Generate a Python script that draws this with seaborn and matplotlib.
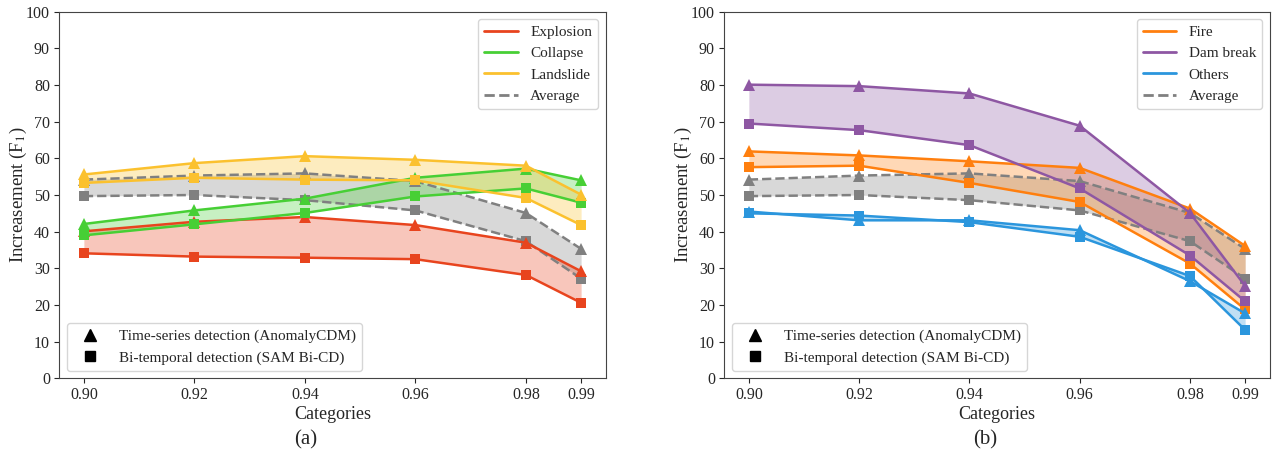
import matplotlib
matplotlib.use("Agg")
import matplotlib.pyplot as plt
import seaborn as sns
import pandas as pd
from matplotlib.lines import Line2D

# ---------------- data ----------------
thresholds = [0.90, 0.92, 0.94, 0.96, 0.98, 0.99]
tick_labels = ["0.90", "0.92", "0.94", "0.96", "0.98", "0.99"]

explosion_ts = [40.1, 42.7, 44.0, 41.8, 37.0, 29.2]
explosion_bi = [34.1, 33.2, 32.9, 32.5, 28.2, 20.6]
collapse_ts = [42.1, 45.8, 49.0, 54.7, 57.2, 54.0]
collapse_bi = [39.0, 42.0, 45.1, 49.6, 51.8, 47.9]
landslide_ts = [55.6, 58.7, 60.6, 59.6, 58.0, 50.1]
landslide_bi = [53.3, 54.7, 54.2, 54.0, 49.2, 41.8]
fire_ts = [61.9, 60.8, 59.2, 57.4, 46.3, 36.1]
fire_bi = [57.6, 58.0, 53.3, 48.1, 31.3, 18.8]
dam_ts = [80.1, 79.7, 77.7, 68.9, 45.1, 25.2]
dam_bi = [69.5, 67.7, 63.6, 51.8, 33.5, 21.0]
others_ts = [45.5, 43.1, 43.1, 40.4, 26.5, 17.7]
others_bi = [45.0, 44.4, 42.6, 38.6, 27.9, 13.2]
average_ts = [54.2, 55.3, 55.9, 53.8, 45.1, 35.3]
average_bi = [49.7, 50.0, 48.6, 45.8, 37.4, 27.2]

left_names = ["Explosion", "Collapse", "Landslide"]
right_names = ["Fire", "Dam break", "Others"]
colors = {
    "Explosion": "#E8441E",
    "Collapse": "#47CF35",
    "Landslide": "#FBC12E",
    "Fire": "#FF7F0E",
    "Dam break": "#8E57A3",
    "Others": "#2B96DD",
    "Average": "#808080",
}
series = {
    "Explosion": (explosion_ts, explosion_bi),
    "Collapse": (collapse_ts, collapse_bi),
    "Landslide": (landslide_ts, landslide_bi),
    "Fire": (fire_ts, fire_bi),
    "Dam break": (dam_ts, dam_bi),
    "Others": (others_ts, others_bi),
    "Average": (average_ts, average_bi),
}

# ---------------- style ----------------
sns.set_style("ticks")
plt.rcParams["font.family"] = ["Liberation Serif", "DejaVu Serif"]
plt.rcParams["mathtext.fontset"] = "stix"
plt.rcParams["axes.edgecolor"] = "#444444"

fig = plt.figure(figsize=(12.72, 4.63), dpi=100)
ax_l = fig.add_axes([0.0464, 0.1829, 0.4300, 0.7918])
ax_r = fig.add_axes([0.5692, 0.1829, 0.4292, 0.7918])


def draw_series(ax, name, dashed=False):
    ts, bi = series[name]
    c = colors[name]
    ls = "--" if dashed else "-"
    df_ts = pd.DataFrame({"x": thresholds, "y": ts})
    df_bi = pd.DataFrame({"x": thresholds, "y": bi})
    ax.fill_between(thresholds, ts, bi, color=c, alpha=0.3, linewidth=0)
    sns.lineplot(data=df_ts, x="x", y="y", ax=ax, color=c, linestyle=ls,
                 linewidth=1.8, marker="^", markersize=8,
                 markeredgewidth=0, label=None)
    sns.lineplot(data=df_bi, x="x", y="y", ax=ax, color=c, linestyle=ls,
                 linewidth=1.8, marker="s", markersize=7.5,
                 markeredgewidth=0, label=None)


for ax, names, panel, px in [(ax_l, left_names, "(a)", 306 / 1272),
                             (ax_r, right_names, "(b)", 985 / 1272)]:
    draw_series(ax, "Average", dashed=True)
    for n in names:
        draw_series(ax, n)
    ax.set_ylim(0, 100)
    ax.set_yticks(range(0, 101, 10))
    ax.set_xticks(thresholds)
    ax.set_xticklabels(tick_labels)
    ax.tick_params(labelsize=11.5, length=3.5, pad=3)
    ax.set_xlabel("Categories", fontsize=13, labelpad=2)
    ax.set_ylabel("Increasement (F$_1$)", fontsize=13.5, labelpad=-2)
    for s in ax.spines.values():
        s.set_visible(True)

    handles = [Line2D([0], [0], color=colors[n], lw=2) for n in names]
    handles.append(Line2D([0], [0], color=colors["Average"], lw=2, ls="--"))
    leg1 = ax.legend(handles, names + ["Average"], loc="upper right",
                     fontsize=11, frameon=True, handlelength=2.2,
                     borderaxespad=0.5, labelspacing=0.5)
    ax.add_artist(leg1)
    mh = [Line2D([0], [0], color="black", marker="^", ls="none", markersize=8),
          Line2D([0], [0], color="black", marker="s", ls="none", markersize=7)]
    ax.legend(mh, ["Time-series detection (AnomalyCDM)",
                   "Bi-temporal detection (SAM Bi-CD)"],
              loc="lower left", fontsize=11, frameon=True,
              handlelength=2.2, borderaxespad=0.5, labelspacing=0.5)

    fig.text(px, 0.03, panel, ha="center", va="bottom", fontsize=15)

fig.savefig("out.png", dpi=100)
